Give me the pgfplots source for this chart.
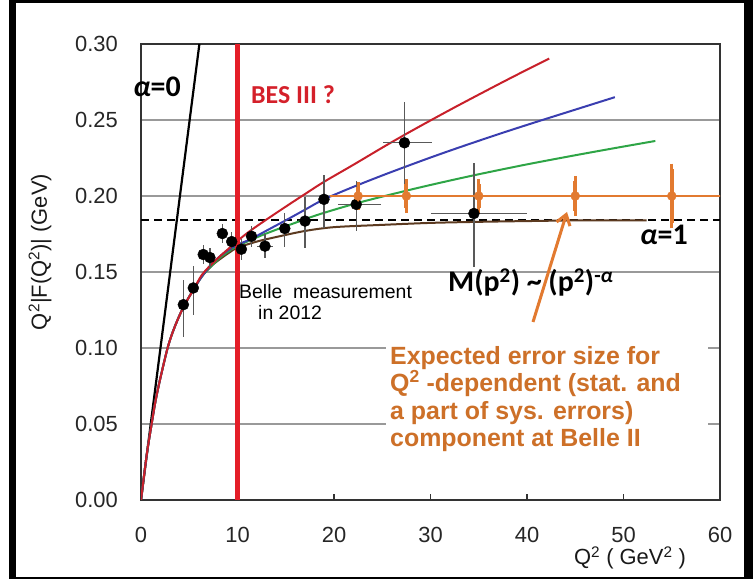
\documentclass[border=0pt]{standalone}
\usepackage{fontspec}
\setmainfont{Liberation Sans}
\newfontfamily\calib{Carlito}
\usepackage{pgfplots}
\usepackage{pgfplotstable}
\pgfplotsset{compat=1.18}
\usetikzlibrary{arrows.meta}
\definecolor{cRed}{RGB}{200,32,42}
\definecolor{cVline}{RGB}{228,30,40}
\definecolor{cBlue}{RGB}{58,62,176}
\definecolor{cGreen}{RGB}{46,165,70}
\definecolor{cBrown}{RGB}{92,58,32}
\definecolor{cOrange}{RGB}{226,122,48}
\definecolor{cOrText}{RGB}{205,112,40}
\definecolor{cBES}{RGB}{212,32,42}

\pgfplotstableread{
x     y      exm  exp  eym    eyp
4.39  0.1285 0.3  0.3  0.021  0.016
5.42  0.1395 0.3  0.3  0.0175 0.0145
6.45  0.1615 0.4  0.4  0.006  0.006
7.14  0.1595 0.4  0.4  0.006  0.006
8.43  0.1753 0.4  0.4  0.006  0.006
9.40  0.1700 0.5  0.5  0.006  0.006
10.40 0.1650 0.5  0.5  0.007  0.007
11.45 0.1735 0.5  0.5  0.007  0.007
12.85 0.1670 0.8  0.8  0.008  0.008
14.90 0.1786 0.5  0.5  0.012  0.010
17.00 0.1835 0.5  0.5  0.018  0.016
18.96 0.1978 0.5  0.5  0.019  0.016
22.30 0.1945 1.9  2.6  0.0175 0.0155
27.30 0.2350 2.2  2.9  0.040  0.027
34.50 0.1885 4.5  5.5  0.035  0.0335
}\belle

\pgfplotstableread{
x    y     ex   ey
22.5 0.200 2.5  0.006
27.5 0.200 2.5  0.008
35   0.200 5    0.008
45   0.200 5    0.010
55   0.200 5    0.018
}\belleII

\begin{document}
\begin{tikzpicture}[x=1bp,y=1bp]
\path (0,0) rectangle (753,579);
\begin{axis}[
  at={(141bp,79bp)}, anchor=south west,
  scale only axis, width=579bp, height=456bp,
  xmin=0, xmax=60, ymin=0, ymax=0.3,
  xtick={0,10,20,30,40,50,60},
  ytick={0,0.05,0.1,0.15,0.2,0.25,0.3},
  /pgf/number format/assume math mode=true,
  tick label style={font=\fontsize{22}{26}\selectfont, text=black!85},
  yticklabel style={anchor=east, inner sep=0pt, xshift=-23bp, /pgf/number format/fixed, /pgf/number format/fixed zerofill, /pgf/number format/precision=2},
  xticklabel style={anchor=north, inner sep=0pt, yshift=-27bp},
  tick align=inside, xtick pos=bottom, ytick pos=left,
  major tick length=6bp,
  ytick style={draw=none},
  xtick style={draw=black!80, line width=1.2bp},
  ymajorgrids, grid style={draw=black!40, line width=1.2bp},
  axis line style={draw=black!80, line width=1.6bp},
  clip=true,
]
% dashed reference line
\addplot[black, line width=2bp, dash pattern=on 8bp off 5bp] coordinates {(0,0.1845) (60,0.1845)};
% alpha = 0 line
\addplot[black, line width=2.2bp] coordinates {(0,0) (6.05,0.30)};
% brown (alpha = 1)
\addplot[cBrown, line width=2bp, smooth] coordinates {
(0,0) (0.6,0.03) (1.1,0.05) (1.5,0.065) (2,0.08) (2.8,0.101) (3.5,0.114) (4.4,0.127) (5.4,0.138) (6.3,0.147) (7.3,0.154) (8.3,0.159) (9.2,0.163) (10,0.166)
(12,0.170) (14,0.173) (17,0.177) (20,0.1795) (25,0.181) (30,0.1823) (35,0.183) (40,0.1835) (46,0.184) (52.4,0.184)};
% green
\addplot[cGreen, line width=2bp, smooth] coordinates {
(0,0) (0.6,0.03) (1.1,0.05) (1.5,0.065) (2,0.08) (2.8,0.101) (3.5,0.114) (4.4,0.127) (5.4,0.138) (6.3,0.147) (7.3,0.154) (8.3,0.160) (9.2,0.164) (10,0.167)
(12,0.1728) (14,0.1778) (16,0.1824) (18.5,0.1880) (22.5,0.1955) (27.5,0.2035) (31,0.2087) (35,0.2143) (40,0.2208) (45,0.2268) (49,0.2314) (53.3,0.2362)};
% blue
\addplot[cBlue, line width=2bp, smooth] coordinates {
(0,0) (0.6,0.03) (1.1,0.05) (1.5,0.065) (2,0.08) (2.8,0.101) (3.5,0.114) (4.4,0.127) (5.4,0.138) (6.3,0.147) (7.3,0.155) (8.3,0.161) (9.2,0.165) (10,0.168)
(11.3,0.1714) (13,0.1772) (15,0.1840) (17,0.1910) (18.96,0.1978) (22,0.2060) (25,0.2135) (27.3,0.2190) (30,0.2253) (33,0.2320) (37.2,0.2410) (41,0.2488) (45,0.2568) (49.1,0.2650)};
% red
\addplot[cRed, line width=2bp, smooth] coordinates {
(0,0) (0.6,0.03) (1.1,0.05) (1.5,0.065) (2,0.08) (2.8,0.101) (3.5,0.114) (4.4,0.127) (5.4,0.138) (6.3,0.148) (7.3,0.155) (8.3,0.161) (9.2,0.166) (10,0.1705)
(11.3,0.1770) (13,0.1845) (15,0.1930) (17,0.2013) (18.96,0.2093) (22,0.2205) (25,0.2318) (27.3,0.2402) (30,0.2497) (33,0.2600) (37.2,0.2740) (40,0.2831) (42.3,0.2904)};
% BES III vertical line
\addplot[cVline, line width=5bp] coordinates {(10,0) (10,0.30)};
% Belle 2012 data
\addplot[only marks, mark=*, mark size=5.5bp, black,
  error bars/.cd, x dir=both, x explicit, y dir=both, y explicit,
  error bar style={draw=black!65, line width=1.3bp}, error mark=none]
  table[x=x, y=y, x error plus=exp, x error minus=exm, y error plus=eyp, y error minus=eym] {\belle};
% Belle II expected: horizontal bars
\addplot[only marks, mark=*, mark size=4.5bp, cOrange,
  error bars/.cd, x dir=both, x explicit,
  error bar style={draw=cOrange, line width=2.5bp},
  error mark options={draw=cOrange, line width=2bp, mark size=4bp}]
  table[x=x, y=y, x error=ex] {\belleII};
% Belle II expected: vertical bars
\addplot[only marks, mark=diamond*, mark size=5.5bp, cOrange,
  error bars/.cd, y dir=both, y explicit,
  error bar style={draw=cOrange, line width=4bp},
  error mark options={draw=cOrange, line width=3bp, mark size=5bp}]
  table[x=x, y=y, y error=ey] {\belleII};
\end{axis}
% white box behind the orange text
\fill[white] (386,129) rectangle (708,241);
% annotations
\node[anchor=center, inner sep=0pt, font=\calib\bfseries\fontsize{30}{32}\selectfont] at (157,492) {\textit{α}=0};
\node[anchor=west, inner sep=0pt, text=cBES, font=\calib\bfseries\fontsize{26}{28}\selectfont] at (251,484) {BES III ?};
\node[anchor=west, inner sep=0pt, font=\fontsize{19.5}{21}\selectfont] at (239,287) {Belle\ \ measurement};
\node[anchor=west, inner sep=0pt, font=\fontsize{19.5}{21}\selectfont] at (258,266) {in 2012};
\node[anchor=west, inner sep=0pt, font=\calib\bfseries\fontsize{30}{32}\selectfont] at (640,344) {\textit{α}=1};
\node[anchor=west, inner sep=0pt, font=\calib\bfseries\fontsize{30}{32}\selectfont] at (448,297) {M(p\textsuperscript{2}) \textasciitilde{} (p\textsuperscript{2})\textsuperscript{-\textit{α}}};
\draw[cOrange, line width=3bp, -{Straight Barb[length=10bp, width=14bp]}] (533,257) -- (567,367);
\node[anchor=north west, inner sep=0pt, align=left, text=cOrText, font=\bfseries\fontsize{25}{27.5}\selectfont] at (390,233)
  {Expected error size for\\Q\textsuperscript{2} -dependent (stat. and\\a part of sys. errors)\\component at Belle II};
% axis labels
\node[inner sep=0pt, text=black!90, font=\fontsize{22}{24}\selectfont] at (630,21) {Q\textsuperscript{2} ( GeV\textsuperscript{2} )};
\node[inner sep=0pt, rotate=90, text=black!90, font=\fontsize{22}{24}\selectfont] at (40,327) {Q\textsuperscript{2}|F(Q\textsuperscript{2})|\ (GeV)};
% outer frame
\fill[black] (9,0) rectangle (16,579);
\fill[black] (744,0) rectangle (753,579);
\fill[black] (9,576) rectangle (753,579);
\fill[black] (9,0) rectangle (753,2);
\end{tikzpicture}
\end{document}
